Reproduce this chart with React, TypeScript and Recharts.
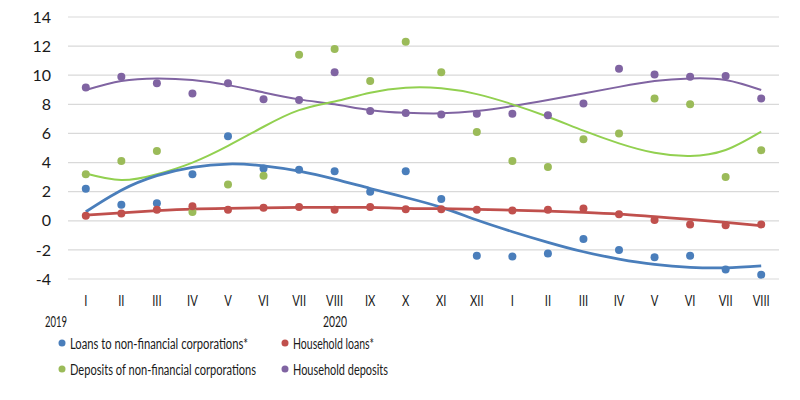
import { CartesianGrid, ComposedChart, Line, XAxis, YAxis } from 'recharts'

const months = ['I', 'II', 'III', 'IV', 'V', 'VI', 'VII', 'VIII', 'IX', 'X', 'XI', 'XII', 'I', 'II', 'III', 'IV', 'V', 'VI', 'VII', 'VIII']
const yTicks = [-4, -2, 0, 2, 4, 6, 8, 10, 12, 14]

// monthly values
const loansCorp = [2.2, 1.1, 1.2, 3.2, 5.8, 3.6, 3.5, 3.4, 2.0, 3.4, 1.5, -2.4, -2.45, -2.25, -1.25, -2.0, -2.5, -2.4, -3.35, -3.7]
const householdLoans = [0.35, 0.5, 0.75, 1.0, 0.75, 0.9, 0.95, 0.75, 0.95, 0.8, 0.8, 0.75, 0.7, 0.75, 0.85, 0.45, 0.05, -0.25, -0.3, -0.25]
const depositsCorp = [3.2, 4.1, 4.8, 0.6, 2.5, 3.1, 11.4, 11.8, 9.6, 12.3, 10.2, 6.1, 4.1, 3.7, 5.6, 6.0, 8.4, 8.0, 3.0, 4.85]
const householdDeposits = [9.15, 9.9, 9.45, 8.75, 9.45, 8.35, 8.3, 10.2, 7.55, 7.4, 7.3, 7.35, 7.35, 7.25, 8.05, 10.45, 10.05, 9.9, 9.95, 8.4]

// trend lines
const loansCorpTrend = [0.62, 2.1, 3.1, 3.67, 3.9, 3.78, 3.41, 2.86, 2.22, 1.6, 0.92, 0.05, -0.75, -1.48, -2.13, -2.63, -3.0, -3.2, -3.23, -3.1]
const householdLoansTrend = [0.39, 0.55, 0.69, 0.8, 0.85, 0.89, 0.92, 0.92, 0.92, 0.85, 0.83, 0.78, 0.73, 0.67, 0.58, 0.46, 0.28, 0.1, -0.11, -0.34]
const depositsCorpTrend = [3.25, 2.8, 3.2, 4.0, 5.15, 6.46, 7.6, 8.2, 8.8, 9.14, 9.1, 8.7, 8.0, 7.15, 6.19, 5.32, 4.67, 4.45, 4.86, 6.12]
const householdDepositsTrend = [8.98, 9.6, 9.78, 9.67, 9.32, 8.82, 8.34, 8.0, 7.6, 7.42, 7.38, 7.54, 7.88, 8.3, 8.75, 9.2, 9.6, 9.78, 9.67, 8.98]

const data = months.map((m, i) => ({
  month: m,
  loansCorp: loansCorp[i],
  householdLoans: householdLoans[i],
  depositsCorp: depositsCorp[i],
  householdDeposits: householdDeposits[i],
  loansCorpTrend: loansCorpTrend[i],
  householdLoansTrend: householdLoansTrend[i],
  depositsCorpTrend: depositsCorpTrend[i],
  householdDepositsTrend: householdDepositsTrend[i],
}))

const FONT = 'Lato, "Open Sans", Arial, sans-serif'
const TEXT = '#1a1a1a'
const SQUEEZE = 0.72

// legend entries (name, colour, text width in the picture)
const legendRows = [
  [
    { name: 'Loans to non-financial corporations*', color: '#4a7ebb', w: 178 },
    { name: 'Household loans*', color: '#c0504d', w: 81 },
  ],
  [
    { name: 'Deposits of non-financial corporations', color: '#9bbb59', w: 186 },
    { name: 'Household deposits', color: '#8064a2', w: 95 },
  ],
]

function MonthTick({ x, y, payload }: any) {
  return (
    <g transform={`translate(${x},${y}) scale(0.75,1)`}>
      <text x={0} y={0} dy="0.71em" textAnchor="middle" fontSize={15} fill={TEXT} fontFamily={FONT}>
        {payload.value}
      </text>
    </g>
  )
}

export default function App() {
  return (
    <div style={{ position: 'absolute', left: 0, top: 0, width: 800, height: 400, background: '#fff' }}>
      <ComposedChart
        width={800}
        height={400}
        data={data}
        margin={{ top: 17, right: 21, bottom: 91, left: 0 }}
      >
        <CartesianGrid vertical={false} stroke="#d9d9d9" strokeWidth={1.2} />
        <XAxis
          dataKey="month"
          interval={0}
          axisLine={false}
          tickLine={false}
          height={30}
          tickMargin={10}
          padding={{ left: 17.8, right: 17.8 }}
          tick={<MonthTick />}
        />
        <YAxis
          domain={[-4, 14]}
          ticks={yTicks}
          interval={0}
          axisLine={false}
          tickLine={false}
          width={68}
          tickMargin={11}
          tick={{ fontSize: 16, fill: TEXT, fontFamily: FONT }}
        />
        <Line type="natural" dataKey="householdDepositsTrend" stroke="#8064a2" strokeWidth={2} dot={false} legendType="none" isAnimationActive={false} />
        <Line type="natural" dataKey="depositsCorpTrend" stroke="#92d050" strokeWidth={2} dot={false} legendType="none" isAnimationActive={false} />
        <Line type="natural" dataKey="loansCorpTrend" stroke="#4a7ebb" strokeWidth={2.75} dot={false} legendType="none" isAnimationActive={false} />
        <Line type="natural" dataKey="householdLoansTrend" stroke="#c0504d" strokeWidth={2.75} dot={false} legendType="none" isAnimationActive={false} />
        <Line dataKey="loansCorp" stroke="none" dot={{ r: 4, fill: '#4a7ebb', stroke: 'none' }} activeDot={false} isAnimationActive={false} />
        <Line dataKey="depositsCorp" stroke="none" dot={{ r: 4, fill: '#9bbb59', stroke: 'none' }} activeDot={false} isAnimationActive={false} />
        <Line dataKey="householdLoans" stroke="none" dot={{ r: 4, fill: '#c0504d', stroke: 'none' }} activeDot={false} isAnimationActive={false} />
        <Line dataKey="householdDeposits" stroke="none" dot={{ r: 4, fill: '#8064a2', stroke: 'none' }} activeDot={false} isAnimationActive={false} />
      </ComposedChart>

      {/* year labels and legend */}
      <svg width={800} height={400} style={{ position: 'absolute', left: 0, top: 0, pointerEvents: 'none' }}>
        <text x={45} y={327} fontSize={15} fill={TEXT} fontFamily={FONT} textLength={22} lengthAdjust="spacingAndGlyphs">
          2019
        </text>
        <text x={323} y={327} fontSize={15} fill={TEXT} fontFamily={FONT} textLength={24} lengthAdjust="spacingAndGlyphs">
          2020
        </text>
        {legendRows.map((row, r) =>
          row.map((item, c) => {
            const cx = c === 0 ? 62 : 285
            const cy = r === 0 ? 343 : 369
            return (
              <g key={item.name}>
                <circle cx={cx} cy={cy} r={3.5} fill={item.color} />
                <g transform={`translate(${cx + 8},${cy + 5.5}) scale(${SQUEEZE},1)`}>
                  <text
                    x={0}
                    y={0}
                    fontSize={16}
                    fill={TEXT}
                    fontFamily={FONT}
                    textLength={item.w / SQUEEZE}
                    lengthAdjust="spacingAndGlyphs"
                  >
                    {item.name}
                  </text>
                </g>
              </g>
            )
          })
        )}
      </svg>
    </div>
  )
}
